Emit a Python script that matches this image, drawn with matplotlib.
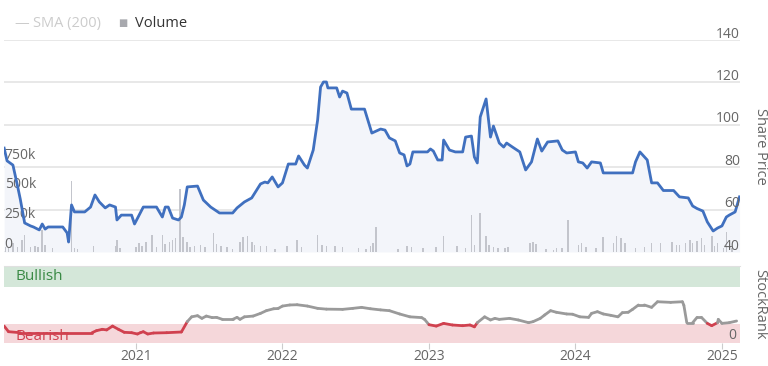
import matplotlib.pyplot as plt
import numpy as np
from matplotlib.collections import LineCollection
from matplotlib.transforms import blended_transform_factory

plt.rcParams['font.family'] = ['Open Sans', 'DejaVu Sans']

# share price (decimal year, price)
price_t = [2020.10, 2020.12, 2020.16, 2020.19, 2020.21, 2020.24, 2020.28, 2020.30, 2020.34, 2020.36,
           2020.38, 2020.40, 2020.50, 2020.53, 2020.54, 2020.56, 2020.58, 2020.65, 2020.69, 2020.72,
           2020.75, 2020.79, 2020.82, 2020.86, 2020.87, 2020.90, 2020.97, 2020.99, 2021.05, 2021.14,
           2021.18, 2021.20, 2021.22, 2021.25, 2021.29, 2021.31, 2021.33, 2021.35, 2021.42, 2021.46,
           2021.51, 2021.57, 2021.66, 2021.69, 2021.74, 2021.79, 2021.85, 2021.88, 2021.90, 2021.93,
           2021.97, 2022.00, 2022.04, 2022.09, 2022.11, 2022.15, 2022.17, 2022.21, 2022.24, 2022.26,
           2022.28, 2022.30, 2022.31, 2022.37, 2022.39, 2022.41, 2022.44, 2022.47, 2022.56, 2022.61,
           2022.67, 2022.70, 2022.73, 2022.77, 2022.80, 2022.83, 2022.85, 2022.87, 2022.89, 2022.99,
           2023.01, 2023.03, 2023.06, 2023.09, 2023.10, 2023.14, 2023.18, 2023.23, 2023.25, 2023.29,
           2023.31, 2023.33, 2023.35, 2023.39, 2023.42, 2023.44, 2023.48, 2023.51, 2023.53, 2023.57,
           2023.62, 2023.66, 2023.70, 2023.74, 2023.77, 2023.81, 2023.88, 2023.91, 2023.94, 2024.00,
           2024.02, 2024.05, 2024.08, 2024.11, 2024.17, 2024.19, 2024.39, 2024.41, 2024.44, 2024.49,
           2024.52, 2024.56, 2024.60, 2024.67, 2024.71, 2024.77, 2024.80, 2024.83, 2024.87, 2024.90,
           2024.94, 2024.97, 2025.00, 2025.03, 2025.05, 2025.09, 2025.12]
price = [89, 83, 81, 71.6, 65, 53.7, 52.3, 51.8, 50.4, 53.2,
         50.8, 51.8, 51.8, 49, 44.7, 62.2, 58.9, 58.9, 61.2, 66.9,
         63.6, 60.8, 62.2, 61.2, 55.1, 57.4, 57.4, 53.2, 61.2, 61.2,
         56.5, 61.2, 61.2, 56, 55.1, 56.5, 62.2, 70.7, 71.1, 64.5,
         61.2, 58.4, 58.4, 60.8, 63.6, 65.5, 72.1, 73, 72.6, 75.4,
         70.7, 72.6, 81.5, 81.5, 85.3, 81, 79.6, 88.1, 102.3, 117.8,
         120.2, 120.2, 117.4, 117.4, 113.1, 115.9, 115, 107.4, 107.4, 96.1,
         98, 97.5, 93.8, 92.4, 86.7, 85.8, 80.6, 81.5, 87.2, 87.2,
         88.6, 87.6, 83.4, 83.4, 92.8, 88.1, 87.2, 87.2, 94.2, 94.7,
         84.8, 82, 103.7, 112.2, 94.2, 99.4, 91.4, 89.5, 91.4, 89.5,
         87.2, 78.7, 82.5, 93.3, 87.6, 91.9, 92.4, 88.1, 86.7, 87.2,
         82.5, 82, 79.6, 82.5, 82, 77.3, 77.3, 82.5, 87.2, 83.4,
         72.6, 72.6, 69, 69, 66, 65.5, 61.7, 60.5, 59.3, 54.2,
         49.9, 51.3, 52.3, 56.5, 57.4, 58.9, 66]

# volume in thousands
vol_t = [2020.11, 2020.13, 2020.16, 2020.19, 2020.22, 2020.24, 2020.28, 2020.31, 2020.33, 2020.36,
         2020.38, 2020.43, 2020.56, 2020.58, 2020.60, 2020.71, 2020.86, 2020.87, 2020.89, 2021.00,
         2021.02, 2021.04, 2021.07, 2021.11, 2021.14, 2021.18, 2021.20, 2021.23, 2021.25, 2021.27,
         2021.30, 2021.32, 2021.35, 2021.37, 2021.40, 2021.44, 2021.47, 2021.53, 2021.55, 2021.58,
         2021.62, 2021.66, 2021.71, 2021.73, 2021.76, 2021.79, 2021.81, 2021.85, 2021.89, 2021.95,
         2022.03, 2022.10, 2022.13, 2022.24, 2022.27, 2022.30, 2022.36, 2022.41, 2022.52, 2022.57,
         2022.60, 2022.62, 2022.64, 2022.79, 2022.85, 2022.88, 2022.96, 2023.05, 2023.10, 2023.19,
         2023.25, 2023.29, 2023.31, 2023.35, 2023.39, 2023.41, 2023.44, 2023.47, 2023.52, 2023.54,
         2023.69, 2023.71, 2023.73, 2023.80, 2023.85, 2023.87, 2023.91, 2023.95, 2024.02, 2024.04,
         2024.07, 2024.14, 2024.19, 2024.26, 2024.28, 2024.31, 2024.34, 2024.41, 2024.47, 2024.52,
         2024.58, 2024.66, 2024.69, 2024.71, 2024.75, 2024.78, 2024.80, 2024.83, 2024.86, 2024.88,
         2024.93, 2024.95, 2024.97, 2025.01, 2025.03, 2025.07]
vol_k = [45, 30, 72, 40, 100, 140, 42, 50, 42, 185,
         58, 33, 600, 33, 25, 50, 50, 100, 33, 42,
         75, 50, 83, 140, 42, 140, 67, 83, 100, 117,
         533, 125, 83, 42, 50, 58, 42, 158, 67, 50,
         42, 25, 83, 125, 133, 83, 58, 50, 50, 25,
         50, 100, 42, 140, 58, 50, 50, 42, 33, 25,
         50, 75, 208, 25, 50, 42, 33, 42, 133, 50,
         33, 308, 58, 325, 133, 58, 42, 33, 33, 42,
         75, 83, 67, 25, 17, 33, 33, 267, 58, 75,
         42, 33, 125, 75, 133, 117, 75, 33, 42, 75,
         75, 83, 58, 58, 75, 100, 75, 92, 117, 58,
         133, 50, 75, 33, 167, 33]

# StockRank
rank_t = [2020.10, 2020.13, 2020.21, 2020.53, 2020.70, 2020.73, 2020.77, 2020.80, 2020.84, 2020.88,
          2020.92, 2020.97, 2021.01, 2021.03, 2021.05, 2021.08, 2021.12, 2021.21, 2021.31, 2021.35,
          2021.38, 2021.42, 2021.45, 2021.48, 2021.52, 2021.55, 2021.59, 2021.66, 2021.69, 2021.71,
          2021.74, 2021.80, 2021.85, 2021.89, 2021.94, 2021.97, 2022.00, 2022.05, 2022.10, 2022.17,
          2022.24, 2022.30, 2022.41, 2022.48, 2022.54, 2022.60, 2022.67, 2022.73, 2022.80, 2022.87,
          2022.95, 2022.97, 2023.00, 2023.05, 2023.10, 2023.16, 2023.23, 2023.28, 2023.31, 2023.33,
          2023.38, 2023.42, 2023.45, 2023.48, 2023.55, 2023.61, 2023.68, 2023.71, 2023.76, 2023.79,
          2023.83, 2023.87, 2023.94, 2023.98, 2024.03, 2024.09, 2024.11, 2024.15, 2024.19, 2024.24,
          2024.29, 2024.32, 2024.36, 2024.39, 2024.43, 2024.47, 2024.52, 2024.56, 2024.65, 2024.73,
          2024.74, 2024.76, 2024.80, 2024.83, 2024.86, 2024.90, 2024.93, 2024.97, 2024.975, 2025.00,
          2025.05, 2025.10]
rank = [22, 14.7, 13.4, 13.4, 13.4, 16, 17.8, 17, 22, 17.8,
        13.9, 13.4, 11.7, 13.4, 14.7, 11.7, 13, 13.4, 14.3, 27.7,
        34, 35.5, 32, 35, 33, 33.3, 30.7, 30.7, 33.3, 30.7,
        34, 35, 38.5, 42, 44.5, 44.8, 48, 49.4, 49.7, 48,
        45, 44, 43.7, 45, 46.3, 44.5, 43, 42, 37.7, 34,
        33, 30.7, 23.8, 22, 25.5, 23.4, 22.5, 23.4, 21, 26.4,
        34, 29.9, 32, 30.7, 32, 29.9, 26.4, 27.7, 32, 36.4,
        42, 39.9, 37.7, 37.4, 34, 33.3, 38.5, 40.7, 37.7, 36,
        34, 39.4, 39.9, 43.7, 49.4, 49.4, 46.3, 53.6, 52.8, 53.6,
        49, 26.4, 26.4, 33.3, 33.3, 25.5, 22.5, 26.4, 30.7, 25.5,
        26.4, 28.6]

price_ticks = [40, 60, 80, 100, 120, 140]
vol_ticks = [0, 250, 500, 750]
vol_labels = ['0', '250k', '500k', '750k']
years = [2021, 2022, 2023, 2024, 2025]

XMIN, XMAX = 2020.099, 2025.123
GRID = '#e6e6e6'
LABEL = '#666666'

fig = plt.figure(figsize=(7.68, 3.66), dpi=100)
top_rect = [0.0052, 0.3115, 0.9583, 0.5792]

# layer 1: grid + area fill
ax_fill = fig.add_axes(top_rect)
ax_fill.set_xlim(XMIN, XMAX)
ax_fill.set_ylim(40, 140)
for v in price_ticks:
    ax_fill.axhline(v, color=GRID, lw=1.3, zorder=0)
ax_fill.fill_between(price_t, price, 40, color='#f3f5fa', lw=0, zorder=1)
ax_fill.axis('off')

# layer 2: volume bars
ax_vol = fig.add_axes(top_rect)
ax_vol.patch.set_visible(False)
ax_vol.set_xlim(XMIN, XMAX)
ax_vol.set_ylim(0, 1780)
ax_vol.bar(vol_t, vol_k, width=0.011, color='#c3c5cc', lw=0)
ax_vol.axis('off')
tr_v = blended_transform_factory(ax_vol.transAxes, ax_vol.transData)
for v, lab in zip(vol_ticks, vol_labels):
    ax_vol.text(0.001, v, lab, transform=tr_v, ha='left', va='bottom',
                fontsize=10, color=LABEL)

# layer 3: price line
ax = fig.add_axes(top_rect)
ax.patch.set_visible(False)
ax.set_xlim(XMIN, XMAX)
ax.set_ylim(40, 140)
ax.plot(price_t, price, color='#4070bf', lw=2.0, solid_joinstyle='round')
ax.axis('off')
tr_p = blended_transform_factory(ax.transAxes, ax.transData)
for v in price_ticks:
    ax.text(1.0, v - 0.8, str(v), transform=tr_p, ha='right', va='bottom',
            fontsize=10, color=LABEL)
fig.text(0.9896, 0.601, 'Share Price', rotation=270, ha='center', va='center',
         fontsize=10.5, color=LABEL)

# legend
fig.text(0.019, 0.937, '—', color='#cccccc', fontsize=10.5, va='center')
fig.text(0.043, 0.937, 'SMA (200)', color='#cccccc', fontsize=10.5, va='center')
fig.text(0.154, 0.937, '■', color='#a8a9ae', fontsize=7, va='center')
fig.text(0.176, 0.937, 'Volume', color='#333333', fontsize=10.5, va='center')

# StockRank panel
axr = fig.add_axes([0.0052, 0.0628, 0.9583, 0.2104])
axr.set_xlim(XMIN, XMAX)
axr.set_ylim(0, 100)
axr.axhspan(0, 25, color='#f5d7da', lw=0, zorder=0)
axr.axhspan(73, 99, color='#d4e7d9', lw=0, zorder=0)
pts = np.column_stack([rank_t, rank])
segs = np.stack([pts[:-1], pts[1:]], axis=1)
mid = (np.array(rank[:-1]) + np.array(rank[1:])) / 2
cols = ['#d0414f' if m < 25 else '#9a9a9a' for m in mid]
axr.add_collection(LineCollection(segs, colors=cols, lw=2.0, capstyle='round', zorder=3))
axr.text(2020.18, 86, 'Bullish', color='#3a8a45', fontsize=11, va='center', zorder=2)
axr.text(2020.18, 8, 'Bearish', color='#d0414f', fontsize=11, va='center', zorder=2)
axr.text(0.995, 0.0, '0', transform=axr.transAxes, ha='right', va='bottom',
         fontsize=10, color=LABEL)
for s in ['left', 'right', 'bottom']:
    axr.spines[s].set_visible(False)
axr.spines['top'].set_color('#e0e0e0')
axr.set_yticks([])
axr.set_xticks(years)
axr.set_xticklabels([str(y) for y in years])
axr.tick_params(axis='x', length=4.5, color='#cccccc', labelcolor=LABEL,
                labelsize=10, pad=0)
fig.text(0.9896, 0.169, 'StockRank', rotation=270, ha='center', va='center',
         fontsize=10.5, color=LABEL)

fig.savefig('out.png', dpi=100)
